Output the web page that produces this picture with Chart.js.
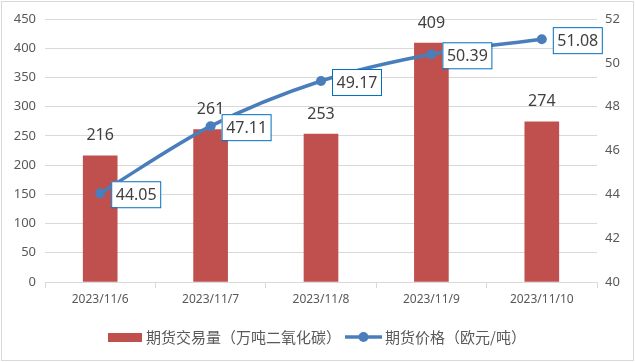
<!DOCTYPE html>
<html>
<head>
<meta charset="utf-8">
<script src="https://cdn.jsdelivr.net/npm/chart.js@4"></script>
<style>
  html, body { margin: 0; padding: 0; background: #fff; }
  #wrap { position: relative; width: 635px; height: 362px; }
</style>
</head>
<body>
<div id="wrap"><canvas id="grafico" width="635" height="362"></canvas></div>
<script>
const categorias = ['2023/11/6', '2023/11/7', '2023/11/8', '2023/11/9', '2023/11/10'];
const volumen = [216, 261, 253, 409, 274];
const precio = [44.05, 47.11, 49.17, 50.39, 51.08];
const ticksIzq = [0, 50, 100, 150, 200, 250, 300, 350, 400, 450];
const ticksDer = [40, 42, 44, 46, 48, 50, 52];

const fuenteNum = '"Noto Sans", "Liberation Sans", sans-serif';
const fuenteCJK = '"Noto Sans CJK SC", sans-serif';
const rojo = '#c0504d';
const azul = '#4a7ebb';

// etiquetas de datos + leyenda + borde
const extras = {
    id: 'extras',
    afterDatasetsDraw(chart) {
        const ctx = chart.ctx;
        ctx.save();
        ctx.font = '16px ' + fuenteNum;
        ctx.fillStyle = '#404040';
        ctx.textAlign = 'center';
        ctx.textBaseline = 'bottom';
        chart.getDatasetMeta(1).data.forEach((bar, i) => {
            ctx.fillText(volumen[i], bar.x, bar.y - 12);
        });

        chart.getDatasetMeta(0).data.forEach((pt, i) => {
            const bx = pt.x + 11, by = pt.y - 12, bw = 49, bh = 26;
            ctx.fillStyle = '#fff';
            ctx.fillRect(bx, by, bw, bh);
            ctx.strokeStyle = '#0070c0';
            ctx.lineWidth = 1;
            ctx.strokeRect(bx + 0.5, by + 0.5, bw, bh);
            ctx.fillStyle = '#404040';
            ctx.textAlign = 'center';
            ctx.textBaseline = 'middle';
            ctx.fillText(precio[i].toFixed(2), bx + bw / 2 + 0.5, by + bh / 2 + 1);
        });
        ctx.restore();
    },
    afterDraw(chart) {
        const ctx = chart.ctx;
        ctx.save();
        const ly = 337;
        ctx.fillStyle = rojo;
        ctx.fillRect(108, ly - 4, 34, 9);
        ctx.font = '15px ' + fuenteCJK;
        ctx.fillStyle = '#595959';
        ctx.textAlign = 'left';
        ctx.textBaseline = 'middle';
        ctx.fillText(chart.data.datasets[1].label, 146, ly);
        ctx.strokeStyle = azul;
        ctx.lineWidth = 3.5;
        ctx.beginPath();
        ctx.moveTo(345, ly);
        ctx.lineTo(382, ly);
        ctx.stroke();
        ctx.fillStyle = azul;
        ctx.beginPath();
        ctx.arc(363.5, ly, 5, 0, Math.PI * 2);
        ctx.fill();
        ctx.fillStyle = '#595959';
        ctx.fillText(chart.data.datasets[0].label, 385, ly);

        ctx.strokeStyle = '#d9d9d9';
        ctx.lineWidth = 1;
        ctx.strokeRect(1.5, 1.5, chart.width - 3, chart.height - 3);
        ctx.restore();
    }
};

const ctx = document.querySelector('#grafico').getContext('2d');
const myChart = new Chart(ctx, {
    type: 'bar',
    data: {
        labels: categorias,
        datasets: [{
            type: 'line',
            label: '期货价格（欧元/吨）',
            data: precio,
            yAxisID: 'y2',
            borderColor: azul,
            backgroundColor: azul,
            borderWidth: 3.5,
            pointRadius: 5,
            pointHoverRadius: 5,
            pointBackgroundColor: azul,
            pointBorderWidth: 0,
            tension: 0.3,
            order: 0
        }, {
            type: 'bar',
            label: '期货交易量（万吨二氧化碳）',
            data: volumen,
            yAxisID: 'y',
            backgroundColor: rojo,
            barThickness: 34,
            order: 1
        }]
    },
    plugins: [extras],
    options: {
        responsive: false,
        animation: false,
        devicePixelRatio: 1,
        layout: { padding: { top: 19, bottom: 50, left: 0, right: 0 } },
        plugins: {
            legend: { display: false },
            tooltip: { enabled: false }
        },
        scales: {
            x: {
                offset: true,
                grid: {
                    offset: true,
                    drawOnChartArea: false,
                    drawTicks: true,
                    tickLength: 6,
                    color: '#d9d9d9'
                },
                border: { display: true, color: '#d9d9d9' },
                ticks: {
                    color: '#595959',
                    font: { family: fuenteNum, size: 12 },
                    padding: 4,
                    maxRotation: 0
                },
                afterFit: s => { s.height = 30; }
            },
            y: {
                position: 'left',
                min: 0,
                max: 450,
                afterBuildTicks: s => { s.ticks = ticksIzq.map(v => ({ value: v })); },
                grid: { color: '#d9d9d9', drawTicks: false },
                border: { display: false },
                ticks: {
                    color: '#595959',
                    font: { family: fuenteNum, size: 13 },
                    padding: 9
                },
                afterFit: s => { s.width = 45; }
            },
            y2: {
                position: 'right',
                min: 40,
                max: 52,
                afterBuildTicks: s => { s.ticks = ticksDer.map(v => ({ value: v })); },
                grid: { drawOnChartArea: false, drawTicks: false },
                border: { display: false },
                ticks: {
                    color: '#595959',
                    font: { family: fuenteNum, size: 13 },
                    padding: 8
                },
                afterFit: s => { s.width = 38; }
            }
        }
    }
});
</script>
</body>
</html>
